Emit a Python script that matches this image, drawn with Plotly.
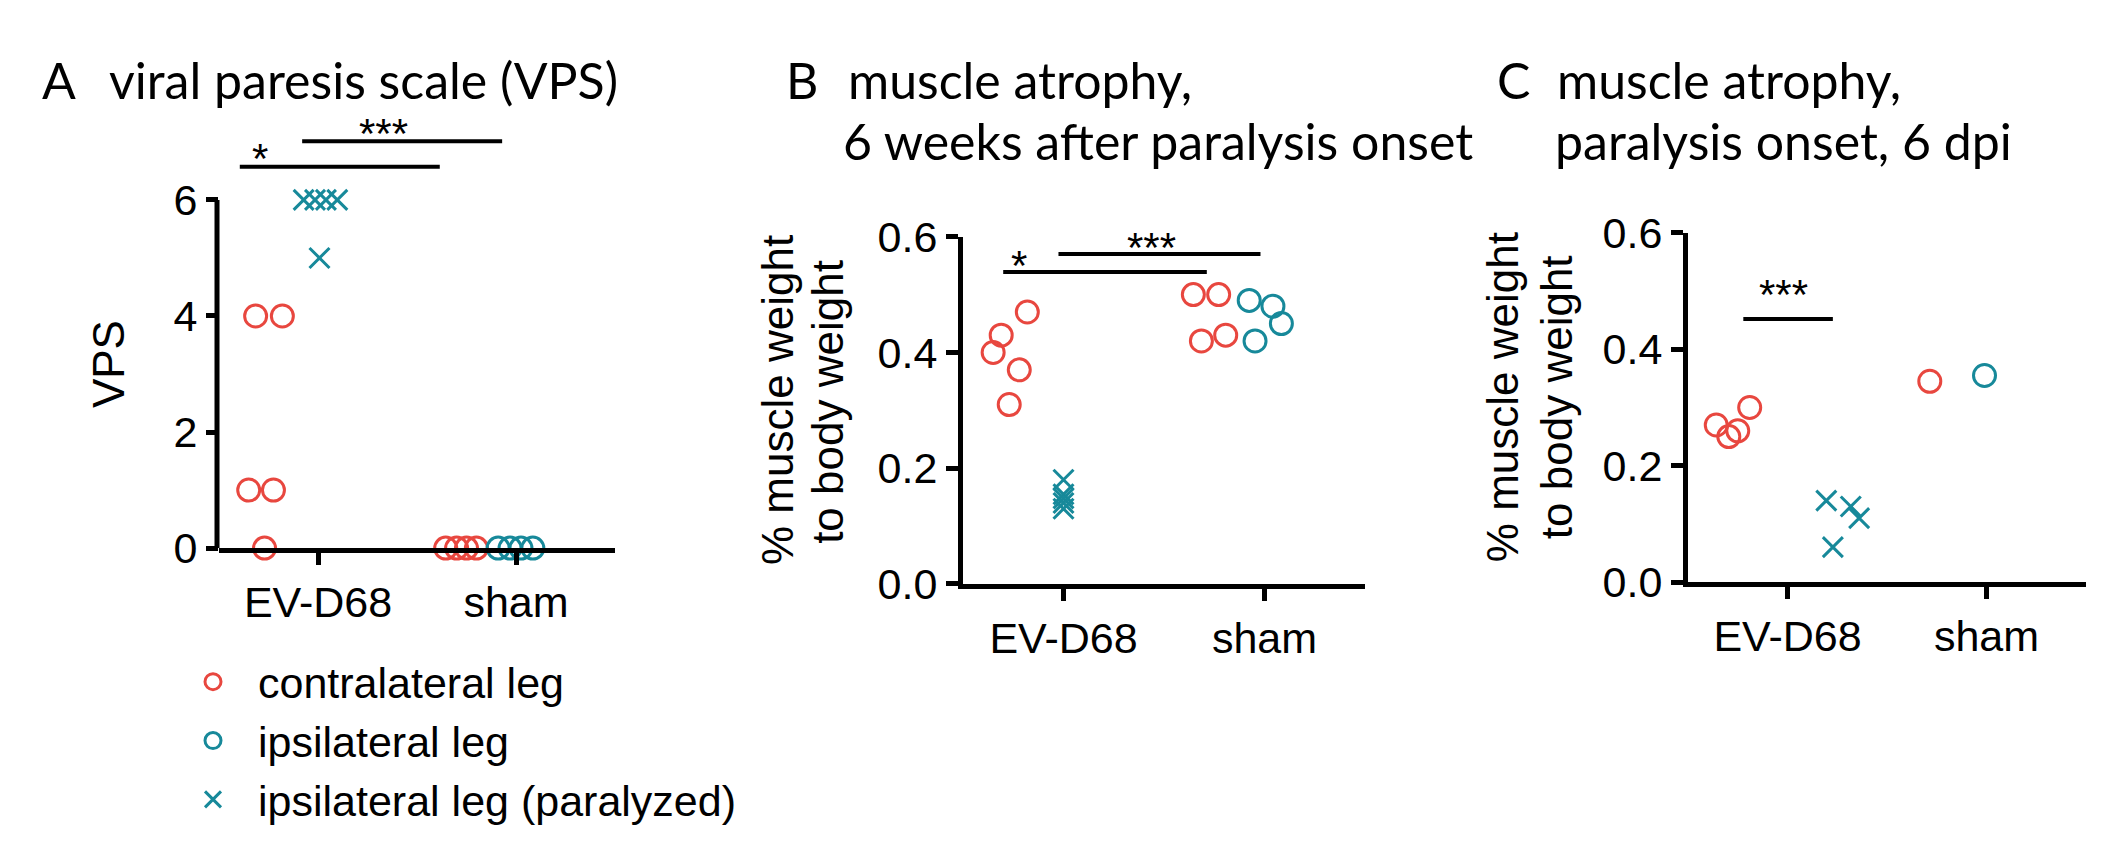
import plotly.graph_objects as go

W, H = 2103, 850
RED = '#E8473F'
TEAL = '#17899A'
TXT = 'Liberation Sans, Arial, sans-serif'
TITLE_FONT = 'Lato, sans-serif'

groups = ['EV-D68', 'sham']

# panel A: viral paresis scale (values + horizontal scatter offsets)
a_evd_contra = [4, 4, 1, 1, 0]
a_evd_contra_dx = [-0.315, -0.18, -0.35, -0.225, -0.27]
a_evd_par = [6, 6, 6, 6, 5]
a_evd_par_dx = [-0.0725, -0.015, 0.04, 0.0975, 0.0075]
a_sham_contra = [0, 0, 0, 0]
a_sham_contra_dx = [-0.355, -0.3, -0.25, -0.2]
a_sham_ipsi = [0, 0, 0, 0]
a_sham_ipsi_dx = [-0.09, -0.03, 0.025, 0.085]

# panel B: muscle atrophy 6 weeks after onset
b_evd_contra = [0.40, 0.43, 0.47, 0.37, 0.31]
b_evd_contra_dx = [-0.35, -0.31, -0.18, -0.22, -0.27]
b_evd_par = [0.18, 0.155, 0.148, 0.14, 0.13]
b_evd_par_dx = [0, 0, 0, 0, 0]
b_sham_contra = [0.50, 0.50, 0.42, 0.43]
b_sham_contra_dx = [-0.354, -0.228, -0.314, -0.193]
b_sham_ipsi = [0.49, 0.48, 0.45, 0.42]
b_sham_ipsi_dx = [-0.076, 0.042, 0.084, -0.047]

# panel C: muscle atrophy at paralysis onset
c_evd_contra = [0.27, 0.25, 0.26, 0.30]
c_evd_contra_dx = [-0.358, -0.295, -0.25, -0.19]
c_evd_par = [0.14, 0.13, 0.11, 0.06]
c_evd_par_dx = [0.195, 0.318, 0.36, 0.228]
c_sham_contra = [0.345]
c_sham_contra_dx = [-0.285]
c_sham_ipsi = [0.355]
c_sham_ipsi_dx = [-0.01]

# significance bars: x0, x1, y, label, label x, label y
a_sig = [(0.605, 1.615, 6.57, '*', 0.705, 6.72),
         (0.92, 1.93, 7.01, '***', 1.33, 7.14)]
b_sig = [(0.70, 1.713, 0.539, '*', 0.78, 0.551),
         (0.975, 1.98, 0.570, '***', 1.436, 0.582)]
c_sig = [(0.778, 1.228, 0.452, '***', 0.98, 0.494)]


def px(p):
    return p / W


def py(p):
    return 1 - p / H


fig = go.Figure()

legend_names = {'contra': 'contralateral leg', 'ipsi': 'ipsilateral leg',
                'par': 'ipsilateral leg (paralyzed)'}
styles = {'contra': ('circle-open', RED, 1),
          'ipsi': ('circle-open', TEAL, 2),
          'par': ('x-thin-open', TEAL, 3)}


def add_pts(vals, dx, grp, kind, xa, ya, show):
    sym, col, rank = styles[kind]
    fig.add_trace(go.Scatter(
        x=[grp + d for d in dx], y=vals, mode='markers',
        xaxis=xa, yaxis=ya, cliponaxis=False,
        name=legend_names[kind], legendrank=rank, showlegend=show,
        marker=dict(symbol=sym, size=22 if sym == 'circle-open' else 20,
                    color=col, line=dict(color=col, width=3))
    ))


add_pts(a_evd_contra, a_evd_contra_dx, 1, 'contra', 'x', 'y', True)
add_pts(a_evd_par, a_evd_par_dx, 1, 'par', 'x', 'y', True)
add_pts(a_sham_contra, a_sham_contra_dx, 2, 'contra', 'x', 'y', False)
add_pts(a_sham_ipsi, a_sham_ipsi_dx, 2, 'ipsi', 'x', 'y', True)

add_pts(b_evd_contra, b_evd_contra_dx, 1, 'contra', 'x2', 'y2', False)
add_pts(b_evd_par, b_evd_par_dx, 1, 'par', 'x2', 'y2', False)
add_pts(b_sham_contra, b_sham_contra_dx, 2, 'contra', 'x2', 'y2', False)
add_pts(b_sham_ipsi, b_sham_ipsi_dx, 2, 'ipsi', 'x2', 'y2', False)

add_pts(c_evd_contra, c_evd_contra_dx, 1, 'contra', 'x3', 'y3', False)
add_pts(c_evd_par, c_evd_par_dx, 1, 'par', 'x3', 'y3', False)
add_pts(c_sham_contra, c_sham_contra_dx, 2, 'contra', 'x3', 'y3', False)
add_pts(c_sham_ipsi, c_sham_ipsi_dx, 2, 'ipsi', 'x3', 'y3', False)

shapes = []
annotations = []
for sig, xr, yr in [(a_sig, 'x', 'y'), (b_sig, 'x2', 'y2'), (c_sig, 'x3', 'y3')]:
    for x0, x1, y, lab, lx, ly in sig:
        shapes.append(dict(type='line', xref=xr, yref=yr, x0=x0, x1=x1, y0=y, y1=y,
                           line=dict(color='black', width=4)))
        annotations.append(dict(xref=xr, yref=yr, x=lx, y=ly, text=lab, showarrow=False,
                                font=dict(family=TXT, size=42, color='black')))

# panel A y axis line only up to 6 (range is extended for the brackets)
shapes.append(dict(type='line', xref='paper', yref='y', x0=px(209), x1=px(209), y0=0, y1=6,
                   line=dict(color='black', width=5)))

tfont = dict(family=TITLE_FONT, size=50, color='black')
titles = [(32, 51, 'A'), (99, 51, 'viral paresis scale (VPS)'),
          (776, 51, 'B'), (838, 51, 'muscle atrophy,'), (833, 116, '6 weeks after paralysis onset'),
          (1487, 51, 'C'), (1547, 51, 'muscle atrophy,'), (1545, 116, 'paralysis onset, 6 dpi')]
for x, y, t in titles:
    annotations.append(dict(xref='paper', yref='paper', x=px(x), y=py(y), text=t,
                            xanchor='left', yanchor='middle', showarrow=False, font=tfont))

afont = dict(family=TXT, size=44, color='black')
ytitles = [(100, 352, 'VPS'),
           (770, 390, '% muscle weight'), (820, 392, 'to body weight'),
           (1494, 387, '% muscle weight'), (1548, 387, 'to body weight')]
for x, y, t in ytitles:
    annotations.append(dict(xref='paper', yref='paper', x=px(x), y=py(y), text=t, textangle=-90,
                            xanchor='center', yanchor='middle', showarrow=False, font=afont))

tickfont = dict(family=TXT, size=43, color='black')
xcommon = dict(range=[0.5, 2.5], tickvals=[1, 2], ticktext=groups, showline=True,
               linewidth=5, linecolor='black', ticks='outside', ticklen=12, tickwidth=5,
               tickcolor='black', tickfont=tickfont, showgrid=False, zeroline=False,
               fixedrange=True)
ycommon = dict(ticks='outside', ticklen=12, tickwidth=5, tickcolor='black',
               tickfont=tickfont, showgrid=False, zeroline=False, linewidth=5,
               linecolor='black', fixedrange=True)

fig.update_layout(
    width=W, height=H,
    margin=dict(l=0, r=0, t=0, b=0),
    paper_bgcolor='white', plot_bgcolor='white',
    xaxis=dict(domain=[px(211), px(607)], anchor='y', **xcommon),
    yaxis=dict(domain=[py(547), py(98)], anchor='x', range=[0, 7.3], tickvals=[0, 2, 4, 6],
               showline=False, **ycommon),
    xaxis2=dict(domain=[px(955), px(1357)], anchor='y2', **xcommon),
    yaxis2=dict(domain=[py(585), py(217)], anchor='x2', range=[0, 0.6],
                tickvals=[0, 0.2, 0.4, 0.6], ticktext=['0.0', '0.2', '0.4', '0.6'],
                showline=True, **ycommon),
    xaxis3=dict(domain=[px(1680), px(2078)], anchor='y3', **xcommon),
    yaxis3=dict(domain=[py(583), py(213)], anchor='x3', range=[0, 0.6],
                tickvals=[0, 0.2, 0.4, 0.6], ticktext=['0.0', '0.2', '0.4', '0.6'],
                showline=True, **ycommon),
    shapes=shapes,
    annotations=annotations,
    showlegend=True,
    legend=dict(x=px(160), y=py(652), xanchor='left', yanchor='top',
                font=dict(family=TXT, size=43, color='black'), itemwidth=80,
                bgcolor='rgba(0,0,0,0)', tracegroupgap=0, traceorder='normal'),
)

fig.write_html('out.html')
